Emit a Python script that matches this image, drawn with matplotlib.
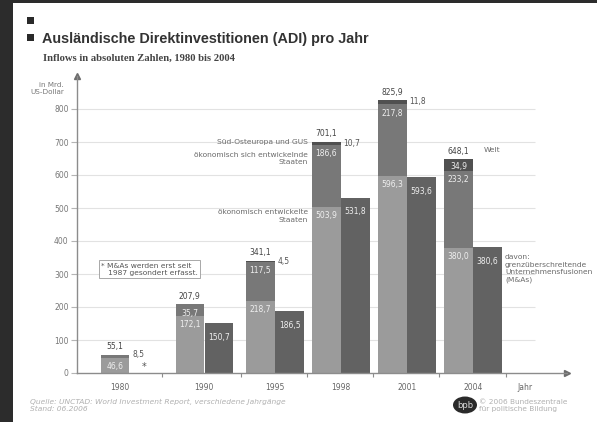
import matplotlib
matplotlib.use("Agg")
import matplotlib.pyplot as plt
import numpy as np
from matplotlib.patches import Rectangle, Circle

# --- data (Mrd. US-Dollar) ---
years = ["1980", "1990", "1995", "1998", "2001", "2004"]
developed = [46.6, 172.1, 218.7, 503.9, 596.3, 380.0]      # ökonomisch entwickelte Staaten
developing = [8.5, 35.7, 117.5, 186.6, 217.8, 233.2]       # ökonomisch sich entwickelnde Staaten
see_cis = [0.0, 0.1, 4.5, 10.7, 11.8, 34.9]                # Süd-Osteuropa und GUS
world = [55.1, 207.9, 341.1, 701.1, 825.9, 648.1]          # Welt
mna = [np.nan, 150.7, 186.5, 531.8, 593.6, 380.6]          # davon: M&As

W, H = 597, 422
fig = plt.figure(figsize=(W / 100, H / 100), dpi=100)
fig.patch.set_facecolor("#2c2c2c")


def fx(px):
    return px / W


def fy(py):
    return 1 - py / H


fig.patches.append(Rectangle((fx(13), 0), 1 - fx(13), fy(3), transform=fig.transFigure,
                             facecolor="white", edgecolor="none", zorder=-5))

# title block
for top in (17, 34):
    fig.patches.append(Rectangle((fx(27), fy(top + 7)), fx(7), 7 / H, transform=fig.transFigure,
                                 facecolor="#2a2a2a", edgecolor="none", zorder=1))
fig.text(fx(42), fy(43), "Ausländische Direktinvestitionen (ADI) pro Jahr", fontsize=10.4,
         fontweight="bold", family="Liberation Sans", color="#333333", va="baseline")
fig.text(fx(43), fy(61), "Inflows in absoluten Zahlen, 1980 bis 2004", fontsize=7.7,
         fontweight="bold", family="Liberation Serif", color="#444444", va="baseline")

# axes
ax = fig.add_axes([fx(77), fy(373), fx(567) - fx(77), fy(76) - fy(373)])
ax.set_facecolor("none")
ax.set_xlim(0, (567 - 77) / 66)
ax.set_ylim(0, 900)

centers = np.array([0.80, 1.93, 3.0, 4.0, 5.0, 6.0])
bw = 0.43
x1 = centers - 0.22
x2 = centers + 0.22

ax.hlines(np.arange(100, 900, 100), 0, 6.94, color="#e2e2e2", lw=0.8, zorder=0)

dev = np.array(developed)
dvg = np.array(developing)
see = np.array(see_cis)
ax.bar(x1, dev, bw, color="#9b9b9b", zorder=2)
ax.bar(x1, dvg, bw, bottom=dev, color="#787878", zorder=2)
ax.bar(x1, see, bw, bottom=dev + dvg, color="#505050", zorder=2)
ax.bar(x2, mna, bw, color="#626262", zorder=2)


def fmt(v):
    return f"{v:.1f}".replace(".", ",")


lab = dict(fontsize=5.5, family="DejaVu Sans")
inside = dict(color="#efefef", ha="center", va="top", textcoords="offset points", **lab)
for i in range(len(years)):
    # total above the stacked bar
    ax.annotate(fmt(world[i]), (x1[i], world[i]), xytext=(0, 2.5), textcoords="offset points",
                ha="center", va="bottom", color="#444444", **lab)
    # developed
    ax.annotate(fmt(dev[i]), (x1[i], dev[i]), xytext=(0, -3), **inside)
    # developing
    if i == 0:
        ax.annotate(fmt(dvg[i]), (x1[i] + bw / 2, dev[i] + dvg[i]), xytext=(2, 0),
                    textcoords="offset points", ha="left", va="center", color="#555555", **lab)
    else:
        ax.annotate(fmt(dvg[i]), (x1[i], dev[i] + dvg[i]), xytext=(0, -3), **inside)
    # south-east Europe / CIS
    if i in (2, 3, 4):
        ax.annotate(fmt(see[i]), (x1[i] + bw / 2, world[i]), xytext=(2, -1),
                    textcoords="offset points", ha="left", va="center", color="#555555", **lab)
    elif i == 5:
        ax.annotate(fmt(see[i]), (x1[i], world[i]), xytext=(0, -2), **inside)
    # M&As
    if not np.isnan(mna[i]):
        ax.annotate(fmt(mna[i]), (x2[i], mna[i]), xytext=(0, -7), **inside)

ax.text(x2[0], 4, "*", ha="center", va="bottom", fontsize=7, color="#555555")

# series names
name = dict(fontsize=5.4, family="DejaVu Sans", color="#6a6a6a", linespacing=1.3)
ax.text(x1[3] - bw / 2 - 0.07, 701, "Süd-Osteuropa und GUS", ha="right", va="center", **name)
ax.text(x1[3] - bw / 2 - 0.07, 650, "ökonomisch sich entwickelnde\nStaaten", ha="right",
        va="center", **name)
ax.text(x1[3] - bw / 2 - 0.07, 475, "ökonomisch entwickelte\nStaaten", ha="right",
        va="center", **name)
ax.text(x2[5] - bw / 2 + 0.16, 675, "Welt", ha="left", va="center", **name)
ax.text(x2[5] + bw / 2 + 0.05, 360, "davon:\ngrenzüberschreitende\nUnternehmensfusionen\n(M&As)",
        ha="left", va="top", **name)

ax.text(0.36, 315, "* M&As werden erst seit\n   1987 gesondert erfasst.", ha="left", va="center",
        fontsize=5.4, family="DejaVu Sans", color="#555555", linespacing=1.2,
        bbox=dict(boxstyle="square,pad=0.3", fc="white", ec="#9a9a9a", lw=0.6))

# spines and arrows
for s in ("top", "right"):
    ax.spines[s].set_visible(False)
for s in ("left", "bottom"):
    ax.spines[s].set_color("#8c8c8c")
    ax.spines[s].set_linewidth(1.0)
ax.plot([0], [1], marker="^", ms=4, color="#6c6c6c", transform=ax.transAxes, clip_on=False)
ax.plot([1], [0], marker=">", ms=4, color="#6c6c6c", transform=ax.transAxes, clip_on=False)

ax.set_yticks(np.arange(0, 900, 100))
ax.tick_params(axis="y", length=4, width=0.8, color="#b5b5b5", labelsize=5.5,
               labelcolor="#777777", pad=2)
ax.set_xticks([1.29, 2.48, 3.48, 4.48, 5.48, 6.5])
ax.set_xticklabels([])
ax.tick_params(axis="x", which="major", length=3, width=0.8, color="#8c8c8c")
year_label_x = [0.65, 1.93, 3.0, 4.0, 5.0, 6.0, 6.79]
ax.set_xticks(year_label_x, labels=years + ["Jahr"], minor=True)
ax.tick_params(axis="x", which="minor", length=0, labelsize=5.5, labelcolor="#666666", pad=7)
for t in ax.get_yticklabels() + ax.get_xticklabels(minor=True):
    t.set_family("DejaVu Sans")

fig.text(fx(64), fy(88.5), "in Mrd.\nUS-Dollar", ha="right", va="center", fontsize=5.2,
         color="#777777", linespacing=1.25)

# footer
fig.text(fx(30), fy(405.5), "Quelle: UNCTAD: World Investment Report, verschiedene Jahrgänge\nStand: 06.2006",
         ha="left", va="center", fontsize=5.4, style="italic", color="#b0b0b0", linespacing=1.3)
fig.patches.append(Circle((fx(465), fy(405)), 12 / W, transform=fig.transFigure,
                          facecolor="#2a2a2a", edgecolor="none"))
fig.text(fx(465), fy(405), "bpb", ha="center", va="center", fontsize=6, color="#dddddd")
fig.text(fx(479), fy(405.5), "© 2006 Bundeszentrale\nfür politische Bildung", ha="left",
         va="center", fontsize=5.3, color="#b0b0b0", linespacing=1.3)

fig.savefig("out.png", dpi=100, facecolor=fig.get_facecolor())
